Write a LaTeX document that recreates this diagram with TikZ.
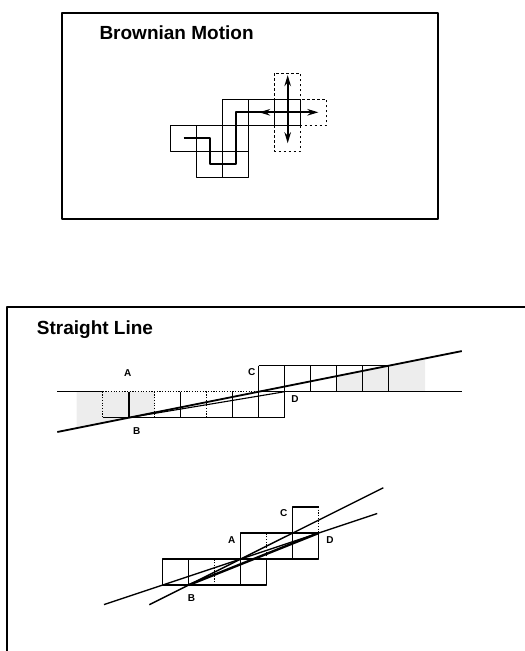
\documentclass[tikz,border=0pt]{standalone}
\usepackage{fontspec}
\setmainfont{Liberation Sans}
\usetikzlibrary{arrows.meta}
\begin{document}
\begin{tikzpicture}[>={Stealth[length=11pt,width=6.5pt]},x=26pt,y=26pt,line join=round,
  title/.style={anchor=base west,inner sep=0pt,font=\fontsize{19}{21}\selectfont\bfseries},
  lbl/.style={inner sep=0pt,font=\fontsize{10}{12}\selectfont\bfseries},
  frame/.style={line width=2pt},
  cell/.style={line width=1.2pt},
  dotcell/.style={line width=1pt,dash pattern=on 1.2pt off 1.5pt},
  trial/.style={line width=1.3pt,dash pattern=on 2.5pt off 2.5pt},
  stipple/.style={fill=black!7}]
\useasboundingbox (0,0) rectangle (20.192,-25.038);

% Brownian motion
\draw[frame] (2.373,-0.488) rectangle (16.858,-8.435);
\node[title] (bm) at (3.82,-1.51) {Brownian Motion};
\begin{scope}[shift={(6.565,-3.819)},yscale=-1]
\draw[trial] (4,-1) rectangle (5,0) (5,0) rectangle (6,1) (4,1) rectangle (5,2);
\foreach \c/\r in {0/1,1/1,1/2,2/2,2/1,2/0,3/0,4/0}
  \draw[cell] (\c,\r) rectangle ++(1,1);
\draw[line width=1.7pt] (0.5,1.5) -- (1.5,1.5) -- (1.5,2.5) -- (2.5,2.5) -- (2.5,0.5) -- (3.5,0.5) -- (4.5,0.5) coordinate (here);
\draw[<->,line width=2.2pt] (3.4,0.5) -- (5.68,0.5);
\draw[<->,line width=1.7pt] (4.5,-0.93) -- (4.5,1.69);
\end{scope}

% Straight line
\draw[frame] (0.281,-25.1) -- (0.281,-11.796) -- (20.3,-11.796);
\node[title] (sl) at (1.412,-12.858) {Straight Line};

% one step
\begin{scope}[shift={(3.95,-15.065)},yscale=-1]
\fill[stipple] (-1,0) -- (2,0) -- (2,0.8) -- (-1,1.4) -- cycle;
\fill[stipple] (9,0) -- (9,-0.6) -- (12.4,-1.28) -- (12.4,0) -- cycle;
\draw[cell] (-1.746,0) -- (0,0) (6,0) -- (13.81,0);
\draw[dotcell] (0,0) -- (6,0) (0,0) -- (0,1) (2,0) -- (2,1) (4,0) -- (4,1);
\draw[cell] (0,1) -- (7,1) (3,0) -- (3,1) (5,0) -- (5,1) (6,-1) -- (6,1)
  (7,-1) -- (7,1) (6,-1) -- (11,-1) -- (11,0) (8,-1) -- (8,0) (9,-1) -- (9,0) (10,-1) -- (10,0);
\coordinate (A) at (1,0);
\coordinate (B) at (1,1);
\coordinate (D) at (7,0);
\draw[line width=2.4pt] (A) -- (B);
\draw[line width=1.8pt] (-1.746,1.549) -- (13.81,-1.562);
\draw[line width=1.1pt] (B) -- (D);
\node[lbl] (la) at (0.96,-0.72) {A};
\node[lbl] (lb) at (1.31,1.51) {B};
\node[lbl] (lc) at (5.73,-0.75) {C};
\node[lbl] (ld) at (7.4,0.28) {D};
\end{scope}

% two steps
\begin{scope}[shift={(6.258,-22.5)}]
\draw[cell] (6,2) -- (6,1) -- (4,1) -- (4,0) -- (0,0) -- (0,1) -- (3,1) -- (3,2) -- (5,2) -- (5,3) -- (6,3);
\draw[cell] (1,0) -- (1,1) (3,0) -- (3,1) -- (4,1) (5,1) -- (5,2) -- (6,2);
\draw[dotcell] (6,3) -- (6,2) (2,0) -- (2,1) (4,1) -- (4,2);
\coordinate (B2) at (1,0);
\coordinate (D2) at (6,2);
\draw[line width=1.4pt] (-0.515,-0.757) -- (8.485,3.74);
\draw[line width=1.4pt] (-2.26,-0.753) -- (8.25,2.75);
\draw[line width=2.4pt] (B2) -- (D2);
\node[lbl] (la2) at (2.65,1.73) {A};
\node[lbl] (lb2) at (1.11,-0.51) {B};
\node[lbl] (lc2) at (4.65,2.76) {C};
\node[lbl] (ld2) at (6.43,1.73) {D};
\end{scope}
\end{tikzpicture}
\end{document}
